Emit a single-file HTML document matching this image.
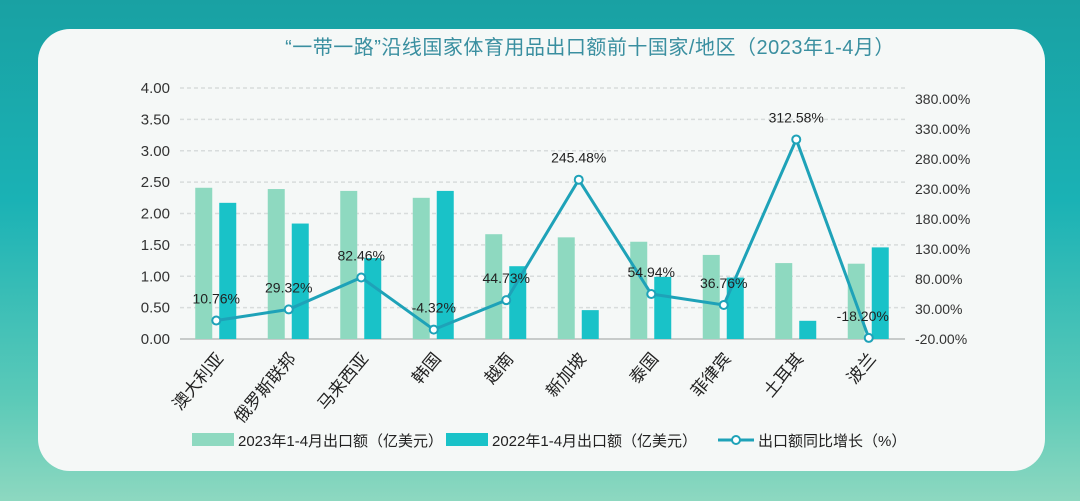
<!DOCTYPE html>
<html><head><meta charset="utf-8"><style>
body{margin:0;width:1080px;height:501px;overflow:hidden;background:linear-gradient(180deg,#19a1a3 0%,#1ab2b5 40%,#5ccab8 80%,#8dd8c0 100%);font-family:"Liberation Sans","Noto Sans CJK SC",sans-serif}
#card{position:absolute;left:38px;top:29px;width:1007px;height:442px;background:#f5f8f7;border-radius:32px}
svg{position:absolute;left:0;top:0}
</style></head><body>
<div id="card"></div>
<svg id="chart" width="1080" height="501"></svg>
<script>
const categories=["澳大利亚","俄罗斯联邦","马来西亚","韩国","越南","新加坡","泰国","菲律宾","土耳其","波兰"];
const values2023=[2.41,2.39,2.36,2.25,1.67,1.62,1.55,1.34,1.21,1.20];
const values2022=[2.17,1.84,1.29,2.36,1.16,0.46,0.99,0.98,0.29,1.46];
const growth=[10.76,29.32,82.46,-4.32,44.73,245.48,54.94,36.76,312.58,-18.20];
const leftTicks=[0,0.5,1,1.5,2,2.5,3,3.5,4];
const rightTicks=[-20,30,80,130,180,230,280,330,380];
const NS="http://www.w3.org/2000/svg";
const svg=document.getElementById('chart');
const x0=180,x1=905,yb=339;
const band=(x1-x0)/categories.length;
const yL=v=>yb-v/4*251;
const yR=v=>yb-(v+20)/400*240;
const cx=i=>x0+band*(i+0.5);
function mk(t,a,txt){const e=document.createElementNS(NS,t);for(const k in a)e.setAttribute(k,a[k]);if(txt!==undefined)e.textContent=txt;svg.appendChild(e);return e;}
let e=mk('text',{x:590,y:54,'text-anchor':'middle','font-size':20,fill:'#3a8fa0','letter-spacing':0.5},'“一带一路”沿线国家体育用品出口额前十国家/地区（2023年1-4月）');


leftTicks.forEach(v=>{
 if(v>0){const g=mk('line',{x1:x0,x2:x1,y1:yL(v),y2:yL(v),stroke:'#d8dcdc','stroke-dasharray':'4,3','stroke-width':1.5});
 
 }
 const t=mk('text',{x:170,y:yL(v)+5,'text-anchor':'end','font-size':15,fill:'#333'},v.toFixed(2));
 
 
});
rightTicks.forEach(v=>{
 const t=mk('text',{x:915,y:yR(v)+5,'font-size':14,fill:'#333'},v.toFixed(2)+'%');
 
 
});
const ax=mk('line',{x1:x0,x2:x1,y1:yb,y2:yb,stroke:'#b8bcbc','stroke-width':1.5});


categories.forEach((c,i)=>{
 const b1=mk('rect',{x:cx(i)-21,y:yL(values2023[i]),width:17,height:yb-yL(values2023[i]),fill:'#8ed9c0'});
 
 
 const b2=mk('rect',{x:cx(i)+3,y:yL(values2022[i]),width:17,height:yb-yL(values2022[i]),fill:'#19c2c8'});
 
 
 const t=mk('text',{x:0,y:0,'text-anchor':'end','font-size':17,fill:'#222',transform:`translate(${cx(i)+8},${yb+20}) rotate(-50)`},c);
 
 
});
const pts=growth.map((v,i)=>cx(i)+','+yR(v)).join(' ');
const pl=mk('polyline',{points:pts,fill:'none',stroke:'#1ea2b8','stroke-width':3});


growth.forEach((v,i)=>{
 const c=mk('circle',{cx:cx(i),cy:yR(v),r:4,fill:'#fff',stroke:'#1ea2b8','stroke-width':2});
 
 
 const t=mk('text',{x:cx(i)+(i==9?-6:0),y:yR(v)-17,'text-anchor':'middle','font-size':14,fill:'#222'},v.toFixed(2)+'%');
 
 
});
let r=mk('rect',{x:192,y:433,width:42,height:13,fill:'#8ed9c0'});


e=mk('text',{x:238,y:446,'font-size':15,fill:'#222'},'2023年1-4月出口额（亿美元）');


r=mk('rect',{x:446,y:433,width:42,height:13,fill:'#19c2c8'});


e=mk('text',{x:492,y:446,'font-size':15,fill:'#222'},'2022年1-4月出口额（亿美元）');


r=mk('line',{x1:718,x2:754,y1:440,y2:440,stroke:'#1ea2b8','stroke-width':3});


r=mk('circle',{cx:736,cy:440,r:4,fill:'#fff',stroke:'#1ea2b8','stroke-width':2});


e=mk('text',{x:758,y:446,'font-size':15,fill:'#222'},'出口额同比增长（%）');


</script>
</body></html>
